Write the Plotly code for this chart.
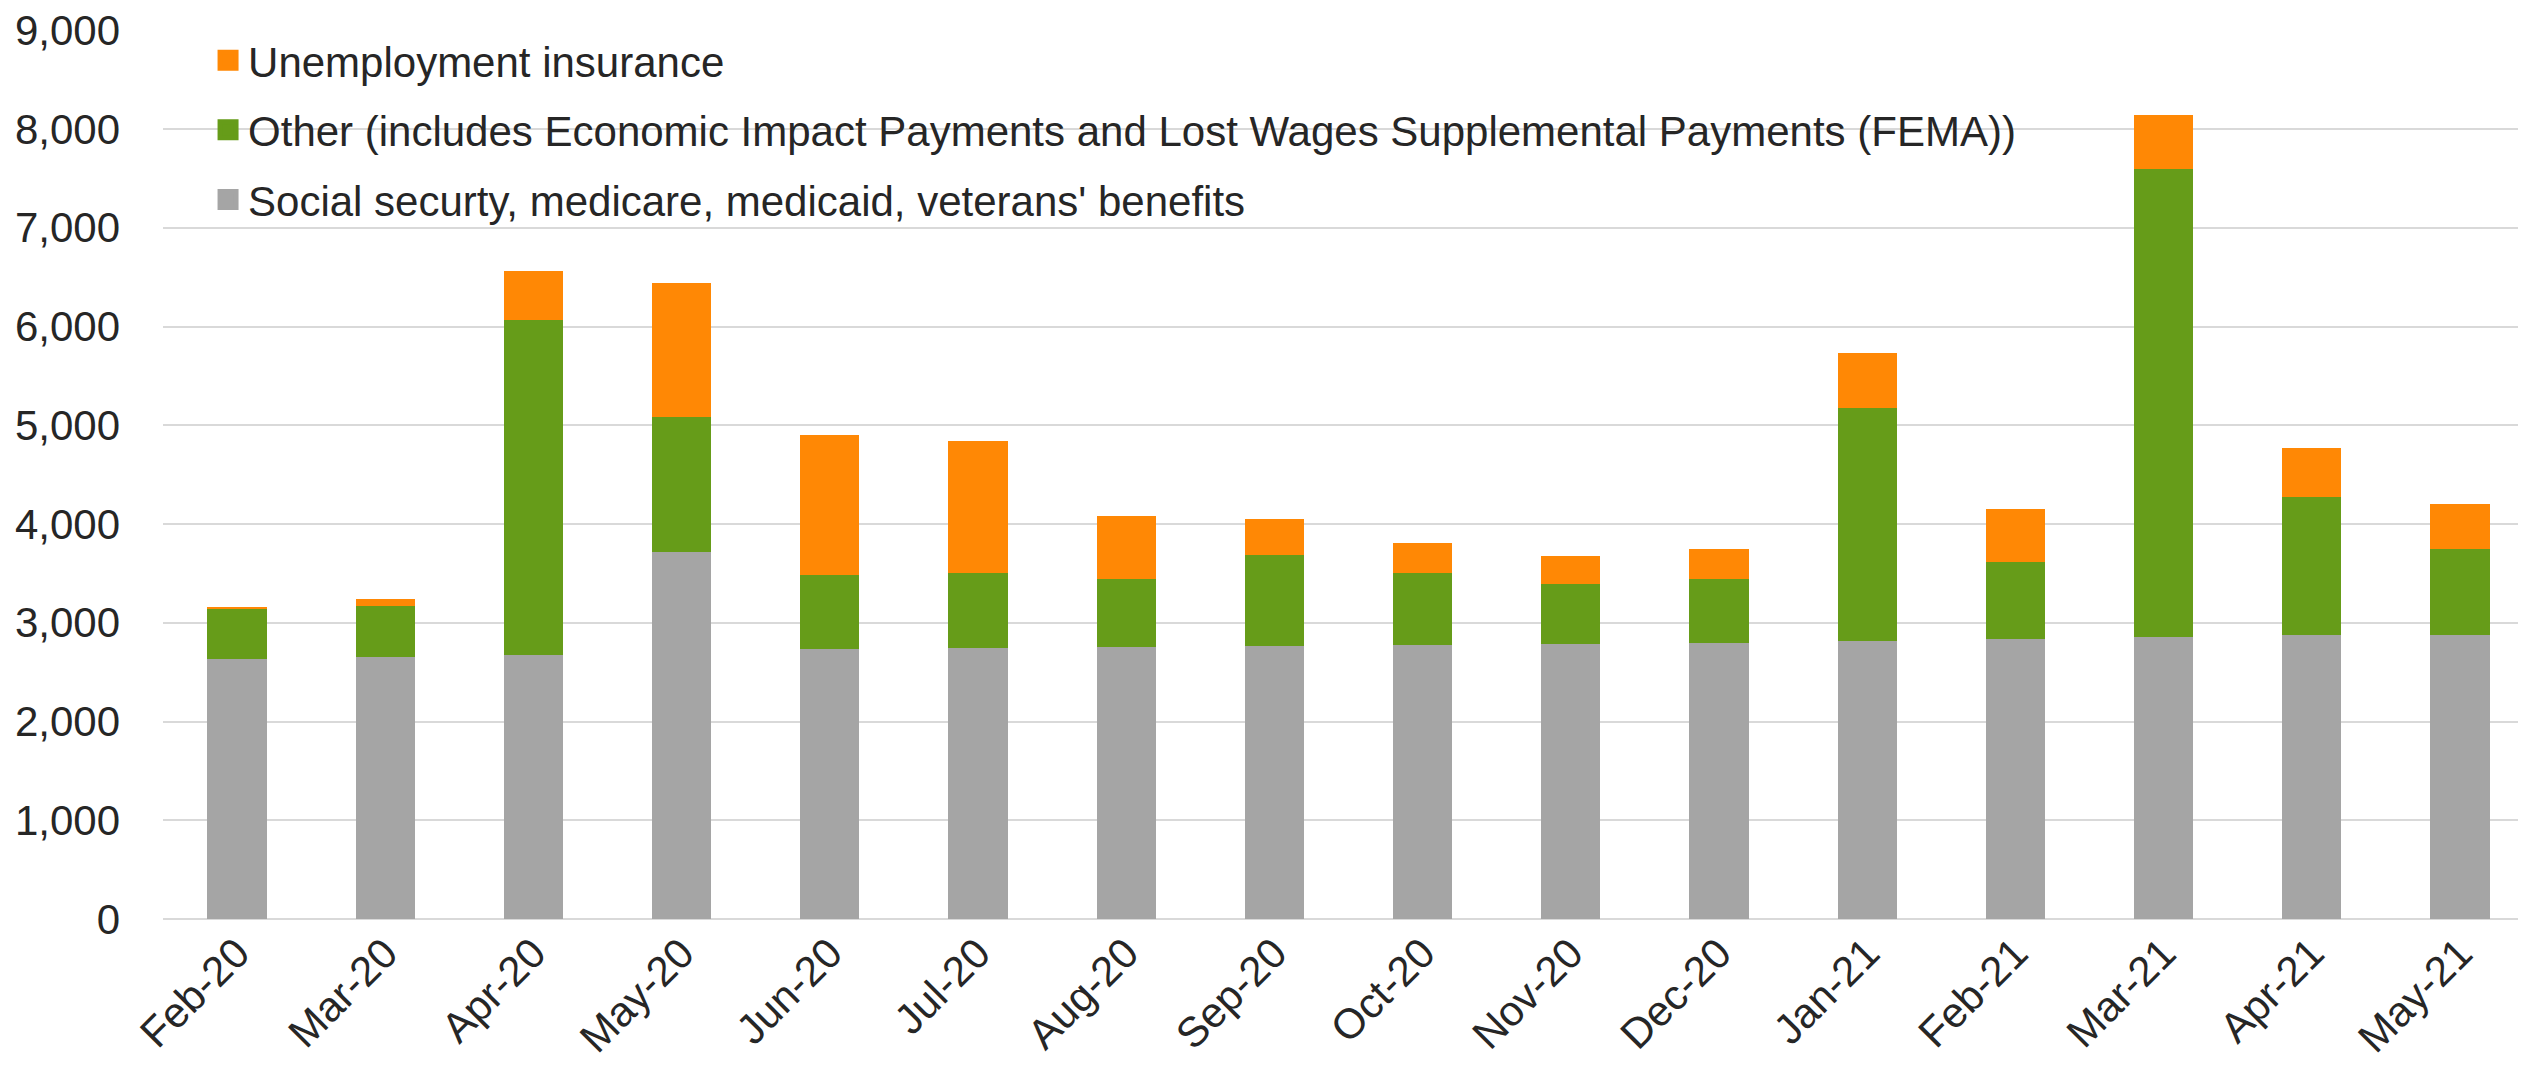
import plotly.graph_objects as go

months = ["Feb-20", "Mar-20", "Apr-20", "May-20", "Jun-20", "Jul-20", "Aug-20", "Sep-20",
          "Oct-20", "Nov-20", "Dec-20", "Jan-21", "Feb-21", "Mar-21", "Apr-21", "May-21"]
social = [2631, 2654, 2675, 3712, 2736, 2746, 2753, 2762, 2772, 2780, 2792, 2820, 2840, 2856, 2872, 2880]
other = [505, 512, 3393, 1369, 752, 759, 688, 926, 733, 613, 653, 2355, 777, 4739, 1398, 865]
unemployment = [23, 78, 491, 1363, 1414, 1336, 637, 363, 304, 284, 304, 553, 536, 545, 497, 461]
y_ticks = [0, 1000, 2000, 3000, 4000, 5000, 6000, 7000, 8000, 9000]

names = ["Social securty, medicare, medicaid, veterans' benefits",
         "Other (includes Economic Impact Payments and Lost Wages Supplemental Payments (FEMA))",
         "Unemployment insurance"]
colors = ["#A5A5A5", "#669C19", "#FF8805"]

fig = go.Figure()
for vals, name, col in zip([social, other, unemployment], names, colors):
    fig.add_trace(go.Bar(x=months, y=vals, name=name, marker=dict(color=col, line=dict(width=0)),
                         showlegend=False))
# legend entries with larger square swatches (top-to-bottom: orange, green, gray)
for name, col in zip(names[::-1], colors[::-1]):
    fig.add_trace(go.Scatter(x=[None], y=[None], mode="markers", name=name, legendgroup=name,
                             marker=dict(symbol="square", size=16, color=col,
                                         line=dict(color=col, width=5))))

font_family = "Liberation Sans, Arial, sans-serif"
fig.update_layout(
    barmode="stack",
    bargap=0.6,
    width=2526, height=1069,
    margin=dict(l=155, r=0, t=22, b=158),
    paper_bgcolor="white", plot_bgcolor="white",
    font=dict(family=font_family, size=42, color="#262626"),
    legend=dict(x=0.019, y=1.004, xanchor="left", yanchor="top", traceorder="grouped",
                bgcolor="rgba(0,0,0,0)", font=dict(size=42, color="#262626"),
                tracegroupgap=12, itemwidth=30),
    showlegend=True,
)
fig.update_xaxes(tickangle=-45, showgrid=False, showline=False, ticks="",
                 tickfont=dict(size=42, color="#262626"), range=[-0.5, 15.5])
fig.update_yaxes(range=[0, 9003], tickvals=y_ticks, tickformat=",d", showgrid=True,
                 gridcolor="#D9D9D9", gridwidth=2, zeroline=True, zerolinecolor="#D9D9D9",
                 zerolinewidth=2, showline=False, ticks="", ticklabelstandoff=42,
                 ticklabeloverflow="allow",
                 tickfont=dict(size=42, color="#262626"))

fig.write_html("out.html")
